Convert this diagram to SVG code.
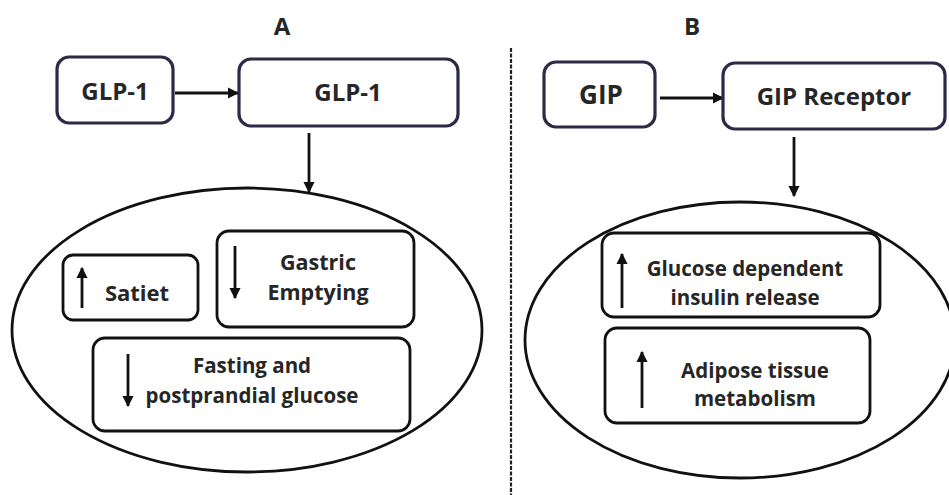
<svg xmlns="http://www.w3.org/2000/svg" width="949" height="495" viewBox="0 0 949 495">
<defs>
<style>
.top{fill:#fff;stroke:#2b2b48;stroke-width:3.2}
.in{fill:#fff;stroke:#111;stroke-width:2.8}
.ell{fill:none;stroke:#111;stroke-width:2.8}
.t{font-family:"Open Sans","Noto Sans",sans-serif;font-weight:bold;fill:#262626;text-anchor:middle}
.big{font-size:24px}
.sm{font-size:20.5px}
.con{stroke:#111;stroke-width:2.8;fill:none}
</style>
<marker id="ah" viewBox="0 0 10 10" refX="9" refY="5" markerWidth="4" markerHeight="4" orient="auto" markerUnits="strokeWidth">
<path d="M0,0 L10,5 L0,10 Z" fill="#111"/>
</marker>
</defs>
<rect width="949" height="495" fill="#fff"/>
<text class="t big" x="282" y="35">A</text>
<text class="t big" x="692" y="35">B</text>
<line x1="511" y1="48" x2="511" y2="495" stroke="#222" stroke-width="2.2" stroke-dasharray="4,1.5"/>
<g id="connectors">
<line class="con" x1="175" y1="93" x2="238" y2="93" marker-end="url(#ah)"/>
<line class="con" x1="309" y1="133" x2="309" y2="192" marker-end="url(#ah)"/>
<line class="con" x1="660" y1="98" x2="723" y2="98" marker-end="url(#ah)"/>
<line class="con" x1="794" y1="137" x2="794" y2="196" marker-end="url(#ah)"/>
</g>
<g id="ellipseA"><ellipse class="ell" cx="247" cy="330" rx="235" ry="142"/></g>
<g id="ellipseB"><ellipse class="ell" cx="740" cy="340" rx="215" ry="138"/></g>
<g id="glp1a"><rect class="top" x="57" y="57" width="116" height="66" rx="12"/><text class="t big" x="115" y="100">GLP-1</text></g>
<g id="glp1b"><rect class="top" x="239" y="59" width="219" height="67" rx="12"/><text class="t big" x="348" y="101">GLP-1</text></g>
<g id="gip"><rect class="top" x="544" y="62" width="111" height="65" rx="12"/><text class="t big" x="601" y="104" style="font-size:26px">GIP</text></g>
<g id="gipr"><rect class="top" x="723" y="63" width="222" height="66" rx="12"/><text class="t big" x="834" y="105">GIP Receptor</text></g>
<g id="satiet"><rect class="in" x="63" y="255" width="135" height="65" rx="10"/>
<line class="con" x1="82" y1="308" x2="82" y2="268" marker-end="url(#ah)"/>
<text class="t sm" x="137" y="301" style="font-size:22px">Satiet</text></g>
<g id="gastric"><rect class="in" x="217" y="231" width="197" height="96" rx="12"/>
<line class="con" x1="235" y1="246" x2="235" y2="298" marker-end="url(#ah)"/>
<text class="t sm" x="318" y="270" style="font-size:21.5px">Gastric</text><text class="t sm" x="318" y="300" style="font-size:21.5px">Emptying</text></g>
<g id="fasting"><rect class="in" x="93" y="338" width="317" height="93" rx="12"/>
<line class="con" x1="128" y1="354" x2="128" y2="406" marker-end="url(#ah)"/>
<text class="t sm" x="252" y="373">Fasting and</text><text class="t sm" x="252" y="403">postprandial glucose</text></g>
<g id="glucose"><rect class="in" x="602" y="233" width="278" height="84" rx="12"/>
<line class="con" x1="622" y1="308" x2="622" y2="254" marker-end="url(#ah)"/>
<text class="t sm" x="745" y="276">Glucose dependent</text><text class="t sm" x="745" y="305">insulin release</text></g>
<g id="adipose"><rect class="in" x="605" y="328" width="265" height="95" rx="12"/>
<line class="con" x1="642" y1="408" x2="642" y2="352" marker-end="url(#ah)"/>
<text class="t sm" x="755" y="378">Adipose tissue</text><text class="t sm" x="755" y="406">metabolism</text></g>
</svg>
